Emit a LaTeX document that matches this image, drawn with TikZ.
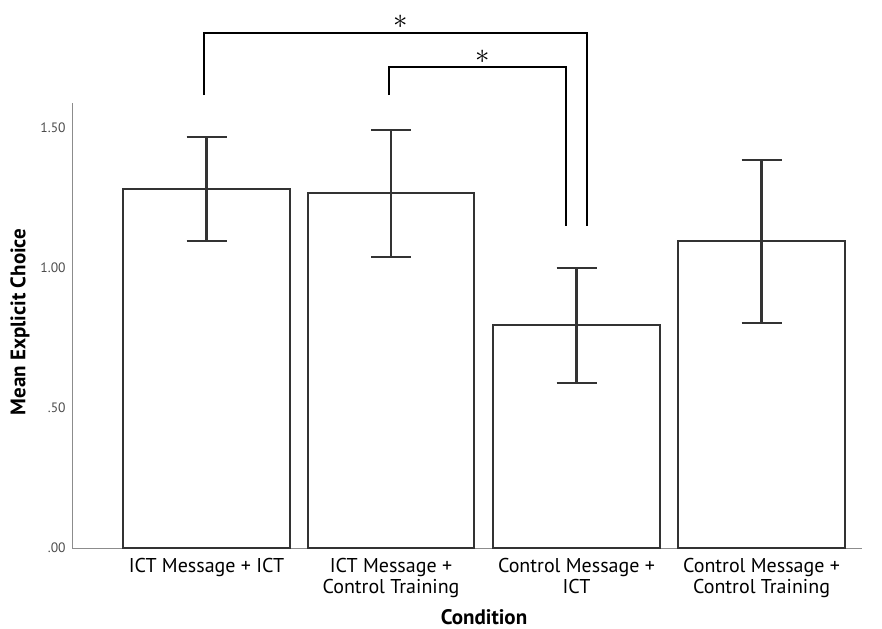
\documentclass[tikz,border=0pt]{standalone}
\usepackage{fontspec}
\setmainfont{PT Sans}
\usetikzlibrary{positioning}
\tikzset{
    bar/.style={draw=black!80, line width=0.8pt, fill=white},
    errbar/.style={draw=black!80, line width=1.1pt},
    axisline/.style={draw=black!45, line width=0.5pt},
    sigline/.style={draw=black, line width=1pt},
    ticklabel/.style={anchor=east, inner sep=0pt, text=black!70, font=\fontsize{6.8}{7}\selectfont},
    catlabel/.style={anchor=north, align=center, inner sep=0pt, font=\fontsize{10}{8.6}\selectfont},
    axistitle/.style={inner sep=0pt, font=\bfseries\fontsize{10.5}{11}\selectfont},
    star/.style={inner sep=0pt, font=\fontsize{14}{14}\selectfont}
}

\begin{document}
\begin{tikzpicture}[x=0.5pt, y=-0.5pt]
    \useasboundingbox (0,0) rectangle (882,628);

    % axes
    \coordinate (origin) at (72,548);
    \coordinate (ytop) at (72,103);
    \coordinate (xend) at (862,548);
    \draw[axisline] (ytop) -- (origin) -- (xend);
    \foreach \v/\lab [count=\k] in {0/.00, 0.5/.50, 1/1.00, 1.5/1.50}
        \node[ticklabel] (tick\k) at (66,548-280*\v) {\lab};

    % bars: left/right/top, error bar high/low
    \foreach \i/\l/\r/\t/\hi/\lo in {1/123/290/189/137/241, 2/308/474/193/130/257,
                                     3/493/660/325/268/383, 4/678/845/241/160/323}{
        \draw[bar] (\l,548) rectangle (\r,\t);
        \pgfmathsetmacro\c{(\l+\r)/2}
        \draw[errbar] (\c-20,\hi) -- (\c+20,\hi) (\c,\hi) -- (\c,\lo) (\c-20,\lo) -- (\c+20,\lo);
        \coordinate (bar\i) at (\c,548);
    }

    \node[catlabel, below=5pt of bar1] (cat1) {ICT Message + ICT};
    \node[catlabel, below=5pt of bar2] (cat2) {ICT Message +\\Control Training};
    \node[catlabel, below=5pt of bar3] (cat3) {Control Message +\\ICT};
    \node[catlabel, below=5pt of bar4] (cat4) {Control Message +\\Control Training};

    \node[axistitle, rotate=90] (ytitle) at (20,322) {Mean Explicit Choice};
    \node[axistitle] (xtitle) at (484,617) {Condition};

    % significance brackets
    \coordinate (bigL) at (204,95);
    \coordinate (bigR) at (587,226);
    \coordinate (smallL) at (389,95);
    \coordinate (smallR) at (566,226);
    \draw[sigline] (bigL) -- ++(0,-62) -| (bigR);
    \draw[sigline] (smallL) -- ++(0,-28) -| (smallR);
    \node[star] (star1) at (401,22) {$\ast$};
    \node[star] (star2) at (483,57) {$\ast$};
\end{tikzpicture}
\end{document}
